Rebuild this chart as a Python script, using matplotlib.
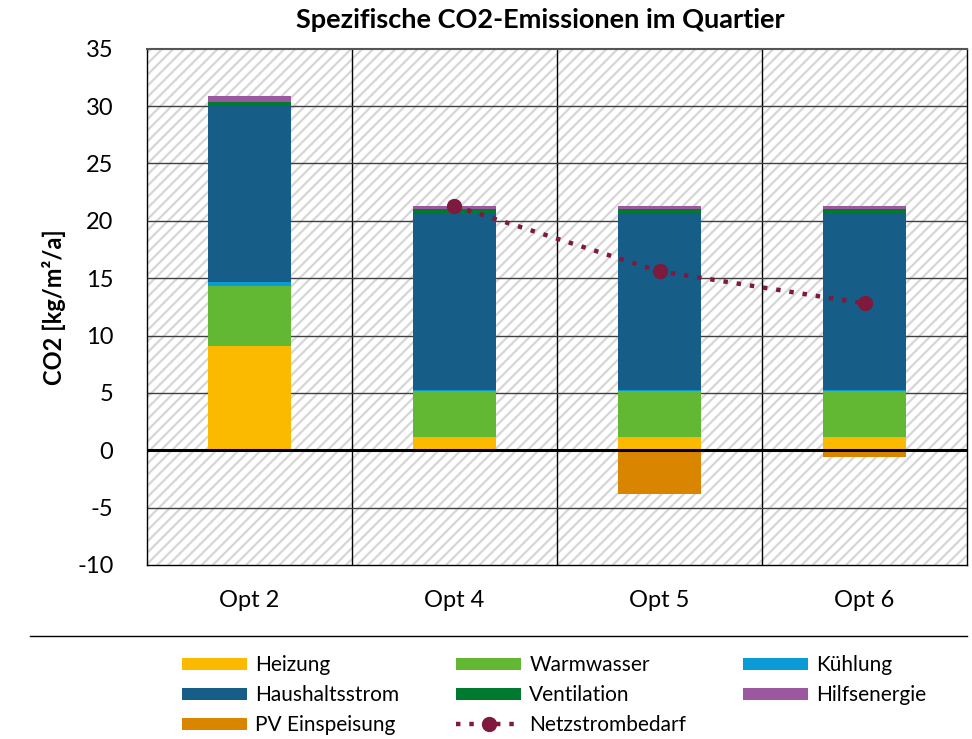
import numpy as np
import matplotlib
matplotlib.use("Agg")
import matplotlib.pyplot as plt
from matplotlib.lines import Line2D
from matplotlib.patches import Patch

plt.rcParams['font.family'] = ['Lato', 'DejaVu Sans']
plt.rcParams['axes.unicode_minus'] = False
plt.rcParams['hatch.linewidth'] = 1.6
plt.rcParams['hatch.color'] = '#d6d6d6'

# Daten
kategorien = ['Opt 2', 'Opt 4', 'Opt 5', 'Opt 6']
heizung = [9.05, 1.15, 1.15, 1.15]
warmwasser = [5.25, 4.0, 4.0, 4.0]
kuehlung = [0.35, 0.12, 0.12, 0.12]
haushaltsstrom = [15.35, 15.37, 15.37, 15.37]
ventilation = [0.35, 0.35, 0.35, 0.35]
hilfsenergie = [0.5, 0.33, 0.33, 0.33]
pv_einspeisung = [0.0, 0.0, -3.8, -0.6]
netzstrombedarf = [np.nan, 21.3, 15.6, 12.8]

serien = [
    ('Heizung', heizung, '#FBBA00'),
    ('Warmwasser', warmwasser, '#62B733'),
    ('Kühlung', kuehlung, '#0A9AD6'),
    ('Haushaltsstrom', haushaltsstrom, '#165D87'),
    ('Ventilation', ventilation, '#007A2E'),
    ('Hilfsenergie', hilfsenergie, '#9B57A0'),
]

fig = plt.figure(figsize=(9.72, 7.39), dpi=100)
ax = fig.add_axes([0.151, 0.2355, 0.844, 0.6985])

ax.patch.set_facecolor('white')
ax.patch.set_hatch('///')
ax.patch.set_edgecolor('#d6d6d6')

x = np.arange(len(kategorien))
breite = 0.405
boden = np.zeros(len(kategorien))
handles = {}
for name, werte, farbe in serien:
    ax.bar(x, werte, breite, bottom=boden, color=farbe, zorder=3)
    handles[name] = Patch(facecolor=farbe)
    boden = boden + np.array(werte)
ax.bar(x, pv_einspeisung, breite, color='#D98500', zorder=3)
handles['PV Einspeisung'] = Patch(facecolor='#D98500')

ax.plot(x, netzstrombedarf, color='#7E1A3E', linestyle=(0, (1, 2)), lw=3.2,
        marker='o', markersize=10, zorder=5)
handles['Netzstrombedarf'] = Line2D([], [], color='#7E1A3E', linestyle=(0, (1, 2)),
                                    lw=3.2, marker='o', markersize=10)

ax.set_xlim(-0.5, 3.5)
ax.set_ylim(-10, 35)
ax.set_yticks(np.arange(-10, 36, 5))
ax.set_xticks(x)
ax.set_xticklabels(kategorien)
for gx in [0.5, 1.5, 2.5]:
    ax.axvline(gx, color='black', lw=1, zorder=1)
for gy in np.arange(-5, 35, 5):
    if gy != 0:
        ax.axhline(gy, color='#404040', lw=1, zorder=1)
ax.axhline(0, color='black', lw=2.2, zorder=4)

for s in ['left', 'right', 'bottom']:
    ax.spines[s].set_color('black')
    ax.spines[s].set_linewidth(1)
ax.spines['top'].set_color('#555555')
ax.spines['top'].set_linewidth(1.5)
ax.tick_params(axis='both', length=0, labelsize=17)
ax.tick_params(axis='x', pad=18)
ax.tick_params(axis='y', pad=24)

ax.set_ylabel('CO2 [kg/m²/a]', fontsize=17, fontweight='bold', labelpad=8)
fig.text(540 / 972, 1 - 20 / 739, 'Spezifische CO2-Emissionen im Quartier',
         fontsize=19.5, fontweight='bold', ha='center', va='center')

fig.add_artist(Line2D([0.031, 0.995], [1 - 636 / 739, 1 - 636 / 739], color='black', lw=1))

reihenfolge = ['Heizung', 'Haushaltsstrom', 'PV Einspeisung',
               'Warmwasser', 'Ventilation', 'Netzstrombedarf',
               'Kühlung', 'Hilfsenergie']
fig.legend([handles[n] for n in reihenfolge], reihenfolge, ncol=3,
           loc='upper left', bbox_to_anchor=(182 / 972, 1 - 655 / 739), frameon=False,
           fontsize=15, handlelength=3.1, handleheight=0.5, columnspacing=2.75,
           labelspacing=0.48, handletextpad=0.4, borderpad=0, borderaxespad=0)

fig.savefig('out.png', dpi=100)
